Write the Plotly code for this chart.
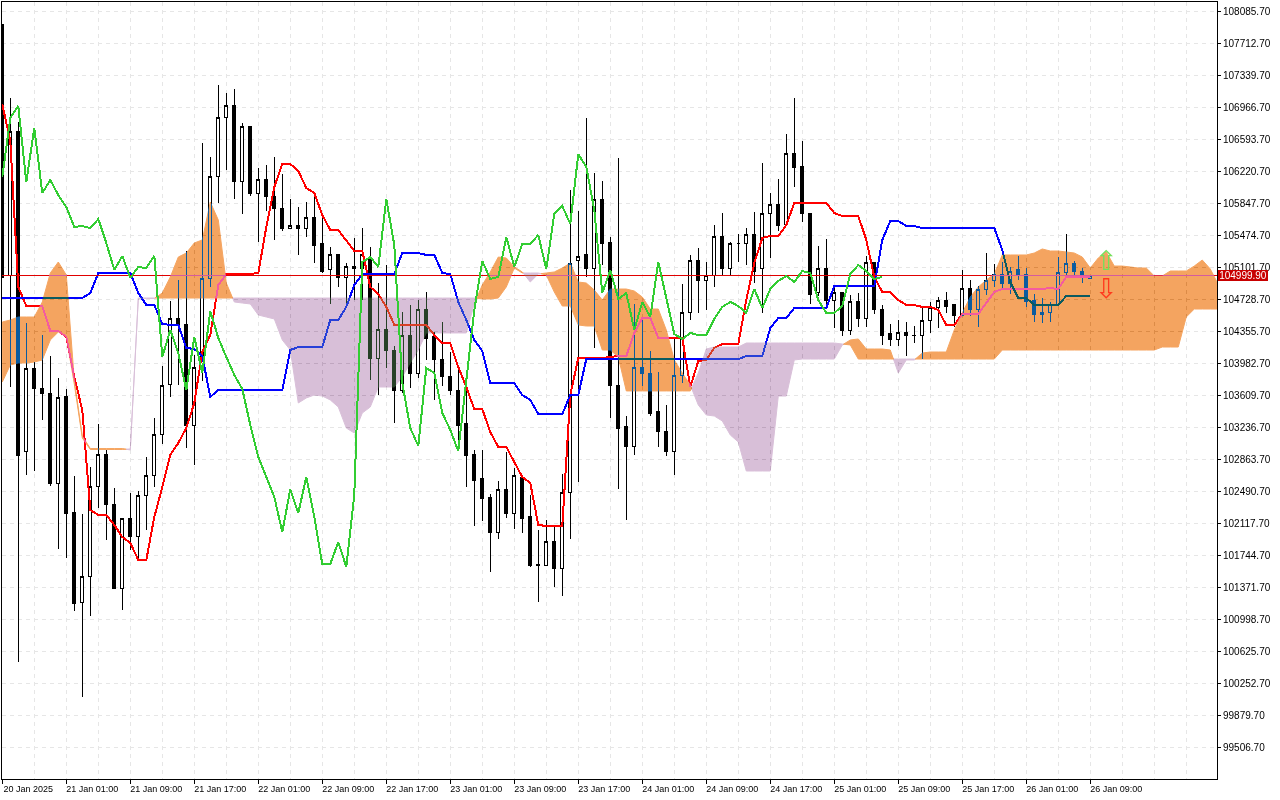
import plotly.graph_objects as go

open_ = [107923,104997,106687,102946,103913,103680,103633,102584,103587,102246,
101197,101500,102549,102922,102339,101360,102165,101966,102433,102666,
103144,103738,104496,104426,103260,103925,104962,106151,106839,106990,
106093,106734,105953,106116,105929,105778,105556,105591,105556,105673,
105370,105067,105242,104974,105113,105090,105207,104041,104368,104134,
103657,104298,103866,104601,104286,104018,103831,103668,103272,102911,
102631,102421,102013,102514,102223,102654,102188,101640,101628,101908,
101593,102479,105172,105242,105090,105894,105382,103715,103237,103015,
103936,103866,103412,103190,102957,103843,104577,105183,104950,104997,
105452,105090,105370,105370,105486,105079,105720,105825,105603,106419,
106279,105731,104799,105079,104717,104810,104356,104694,104507,105160,
104612,104321,104251,104344,104309,104309,104484,104624,104706,104659,
104542,104857,104612,104845,104939,105009,104915,105067,105020,104706,
104566,104566,104659,105032,105137,105055,104962]
high = [107923,107072,106792,104449,103994,104309,104064,103808,103680,102666,
102223,102771,103272,102969,102526,102176,102468,102491,102887,103342,
103948,104706,104950,105288,104076,106547,106384,107223,107130,107177,
106780,106745,106256,106291,106384,106186,105894,105801,105859,105941,
105673,105335,105253,105148,105440,105556,105335,104915,105125,104181,
104577,104659,104717,104810,104344,104461,104111,103936,103750,102969,
102969,102456,102608,102946,102759,102677,102444,102036,102153,102071,
102689,106000,105755,106839,106198,106104,105452,106372,103365,104671,
104507,104123,103878,103493,104263,104904,105242,105323,105160,105591,
105731,105393,105486,105556,105743,106314,105964,106128,106652,107072,
106570,105731,105347,105428,104869,104810,104775,104799,105230,105160,
104659,104438,104484,104461,104414,104624,104694,104752,104810,104671,
105067,104950,104880,105265,105137,105160,105102,105230,105090,104787,
104740,104694,105218,105486,105172,105090,105000]
low = [104985,103703,100498,102677,102724,103319,102549,101815,101710,101092,
100090,101034,102293,101920,101349,101104,101803,101687,102036,102538,
103039,103587,103726,102992,102794,103773,104869,105848,106232,105894,
105720,105929,105393,105755,105417,105521,105545,105242,105452,105148,
105032,104671,104869,104682,104717,104717,103785,103610,103925,103283,
103633,103692,103808,104018,103552,103715,103610,103074,102538,102083,
102141,101547,101931,102176,102048,102001,101605,101197,101628,101372,
101267,101931,102596,104985,104158,105125,103342,102514,102153,102911,
103715,103365,103004,102899,102677,103750,104484,104566,104601,104869,
105009,104997,105160,105125,104915,104566,105207,105521,105591,106034,
105626,104671,104764,104624,104391,104298,104309,104402,104402,104554,
104193,104181,104181,104064,104216,104029,104333,104391,104566,104402,
104542,104531,104402,104775,104869,104857,104787,104950,104636,104461,
104449,104461,104659,104974,104985,104915,104962]
close = [104985,106687,102899,103913,103680,103633,102573,103575,102234,101174,
101500,102549,102922,102328,101349,102165,101966,102433,102677,103144,
103726,104496,104426,103249,103925,104962,106151,106839,106990,106093,
106734,105953,106116,105918,105778,105556,105591,105545,105673,105358,
105055,105242,104974,105113,105090,105242,104041,104368,104123,103657,
104298,103855,104601,104263,104029,103820,103657,103260,102899,102619,
102409,102013,102514,102223,102666,102176,101628,101628,101908,101593,
102479,105148,105230,105090,105894,105370,103715,103225,103015,103936,
103855,103400,103179,102957,103843,104577,105183,104950,104997,105452,
105090,105370,105370,105486,105044,105720,105825,105591,106419,106267,
105720,104787,105079,104717,104810,104356,104694,104507,105160,104601,
104309,104251,104344,104298,104303,104484,104624,104706,104647,104542,
104857,104612,104845,104939,105009,104915,105055,105009,104694,104554,
104554,104659,105032,105137,105044,104985,104999.9]

tenkan = [106998,106570,104869,104647,104647,104647,104356,104356,104286,103820,
103435,102269,102211,102211,102095,101955,101885,101687,101687,102188,
102538,102911,103050,103225,103517,104111,104309,104892,105020,105020,
105020,105020,105032,105568,106034,106302,106302,106221,106023,105964,
105708,105533,105533,105417,105288,105288,104869,104787,104636,104426,
104426,104426,104426,104426,104309,104216,104216,103936,103703,103445,
103445,103179,103004,103004,102829,102654,102584,102095,102083,102083,
102083,103610,104041,104041,104041,104041,104053,104064,104064,104333,
104507,104507,104274,104274,104274,104274,103703,104006,104018,104158,
104204,104204,104204,104717,105148,105440,105463,105463,105591,105848,
105848,105848,105848,105848,105731,105696,105696,105696,105417,104985,
104810,104810,104717,104659,104659,104636,104636,104601,104426,104426,
104554,104554,104554,104682,104810,104845,104845,104845,104845,104845,
104845,104857,104845,104985,104985,104985,104985]
kijun = [104740,104740,104740,104740,104740,104740,104740,104740,104740,104740,
104740,104799,105032,105032,105032,105032,105032,104799,104659,104659,
104438,104426,104426,104158,104146,104064,103587,103668,103668,103668,
103668,103668,103668,103668,103668,103668,104134,104169,104169,104169,
104169,104484,104484,104636,104892,105020,105020,105020,105020,105020,
105265,105265,105265,105242,105242,105032,105020,104694,104484,104251,
104123,103750,103750,103750,103750,103610,103552,103388,103388,103388,
103388,103610,103610,104029,104029,104029,104029,104029,104029,104029,
104029,104029,104029,104029,104029,104029,104029,104029,104029,104029,
104029,104029,104029,104064,104064,104064,104391,104507,104507,104624,
104624,104624,104624,104624,104880,104880,104880,104880,104880,104880,
105417,105638,105638,105580,105580,105556,105556,105556,105556,105556,
105556,105556,105556,105556,105556,105300,104927,104740,104740,104659,
104659,104659,104659,104764,104764,104764,104764]
chikou = [106151,106839,106978,106093,106722,105964,106116,105941,105801,105568,
105580,105556,105661,105382,105067,105230,104974,105102,105090,105230,
104053,104368,104099,103668,104286,103866,104589,104274,104053,103843,
103680,103260,102887,102642,102421,102013,102514,102234,102654,102188,
101640,101640,101896,101605,102444,105160,105218,105102,105894,105358,
103750,103225,103015,103925,103866,103400,103202,102957,103750,104601,
105172,104962,104985,105452,105102,105370,105370,105475,105079,105720,
105813,105603,106419,106267,105766,104799,105067,104729,104799,104368,
104694,104519,105160,104752,104321,104263,104333,104309,104309,104496,
104636,104694,104647,104566,104845,104624,104845,104939,104997,104927,
105055,105032,104717,104566,104566,104647,105020,105125,105055,104962,
104985]
span_a = [104461,104484,104519,104519,104519,104694,105032,105160,105009,103785,
103132,102986,102986,102986,102986,102986,102969,104735,104735,104735,
104799,104985,105218,105265,105382,105417,105859,105650,104915,104694,
104682,104671,104542,104519,104496,104251,104134,103517,103575,103610,
103598,103552,103470,103225,103167,103400,103470,103703,103703,103703,
103820,103983,104134,104333,104333,104333,104333,104333,104333,104671,
104892,105044,105218,105207,105102,105044,104927,105020,105032,105044,
105090,105148,104927,104915,104834,104717,104845,104845,104845,104822,
104752,104612,104612,104368,104018,103866,103726,103493,103377,103365,
103307,103144,103062,102724,102724,102724,102724,103598,103598,104018,
104029,104029,104029,104029,104029,104193,104251,104263,104146,104146,
104146,104134,103866,104018,104018,104099,104111,104111,104111,104368,
104566,104752,104869,104950,105020,105242,105242,105242,105242,105265,
105312,105288,105288,105277,105265,105218,105090,105207,105277,105113,
105113,105102,105090,105090,104997,104997,105055,105055,105055,105113,
105183,105079,104927]
span_b = [103761,103960,103983,103983,103994,104018,104251,104344,104286,103738,
103109,102975,102975,102975,102975,102975,102981,104740,104740,104740,
104740,104740,104740,104740,104740,104740,104740,104740,104740,104740,
104740,104740,104740,104740,104740,104740,104740,104740,104740,104740,
104740,104740,104740,104740,104740,104740,104740,104740,104740,104740,
104740,104740,104740,104740,104740,104740,104740,104740,104740,104740,
104729,104729,104740,104869,105090,105032,105032,105032,105009,104810,
104647,104647,104426,104414,104414,104134,104134,104053,103657,103657,
103657,103657,103657,103657,103657,103657,103657,103866,104146,104169,
104169,104169,104169,104216,104216,104216,104216,104216,104216,104216,
104216,104216,104216,104216,104216,104204,104193,104029,104029,104029,
104029,104029,104029,104029,104029,104029,104029,104029,104029,104029,
104029,104029,104029,104029,104029,104134,104134,104134,104134,104134,
104134,104134,104134,104134,104134,104134,104134,104134,104134,104134,
104134,104134,104134,104134,104134,104169,104169,104169,104519,104612,
104612,104612,104612]
cloud_x = list(range(152)) + [151.84]

x_tick_vals = [0,8,16,24,32,40,48,56,64,72,80,88,96,104,112,120,128,136]
x_tick_text = ["20 Jan 2025","21 Jan 01:00","21 Jan 09:00","21 Jan 17:00","22 Jan 01:00","22 Jan 09:00",
               "22 Jan 17:00","23 Jan 01:00","23 Jan 09:00","23 Jan 17:00","24 Jan 01:00","24 Jan 09:00",
               "24 Jan 17:00","25 Jan 01:00","25 Jan 09:00","25 Jan 17:00","26 Jan 01:00","26 Jan 09:00"]
x_grid_vals = list(range(0, 152, 4))
y_tick_vals = [99506.7,99879.7,100252.7,100625.7,100998.7,101371.7,101744.7,102117.7,102490.7,102863.7,
               103236.7,103609.7,103982.7,104355.7,104728.7,105101.7,105474.7,105847.7,106220.7,106593.7,
               106966.7,107339.7,107712.7,108085.7]
last_price = 104999.9
x_range = [-0.0375, 151.84]
y_range = [99134.0, 108190.6]
signal_x = [138, 138]
signal_y = [105150, 104815]
signal_text = ["\u21e7", "\u21e9"]
signal_color = ["#74e05a", "#ff3a1e"]


def cloud_polygons(sign):
    xs, ys, run = [], [], []

    def flush():
        nonlocal run
        if run:
            xs.extend([r[0] for r in run] + [r[0] for r in run[::-1]] + [None])
            ys.extend([r[1] for r in run] + [r[2] for r in run[::-1]] + [None])
            run = []

    for k in range(len(cloud_x)):
        d = sign * (span_a[k] - span_b[k])
        prev = sign * (span_a[k - 1] - span_b[k - 1]) if k else 0
        if (d > 0) != (prev > 0) and k and d != prev:
            t = prev / (prev - d)
            cx = cloud_x[k - 1] + t * (cloud_x[k] - cloud_x[k - 1])
            cy = span_a[k - 1] + t * (span_a[k] - span_a[k - 1])
            run.append((cx, cy, cy))
            if d <= 0:
                flush()
        if d > 0:
            run.append((cloud_x[k], span_a[k], span_b[k]))
    flush()
    return xs, ys


bars = list(range(len(close)))
fig = go.Figure()
fig.add_trace(go.Candlestick(
    x=bars, open=open_, high=high, low=low, close=close,
    increasing=dict(line=dict(color="#000000", width=1), fillcolor="#ffffff"),
    decreasing=dict(line=dict(color="#000000", width=1), fillcolor="#000000"),
    whiskerwidth=0, hoverinfo="skip"))
fig.add_trace(go.Scatter(x=bars, y=tenkan, mode="lines", line=dict(color="#ff0000", width=2), cliponaxis=False))
fig.add_trace(go.Scatter(x=bars, y=kijun, mode="lines", line=dict(color="#0000ff", width=2), cliponaxis=False))
fig.add_trace(go.Scatter(x=x_range, y=[last_price, last_price], mode="lines",
                         line=dict(color="#e00000", width=1.4), cliponaxis=False))
for sign, colour in ((1, "#F4A460"), (-1, "#D8BFD8")):
    px, py = cloud_polygons(sign)
    fig.add_trace(go.Scatter(x=px, y=py, mode="none", fill="toself", fillcolor=colour, cliponaxis=False))
fig.add_trace(go.Scatter(x=bars[:len(chikou)], y=chikou, mode="lines",
                         line=dict(color="#32cd32", width=2), cliponaxis=False))
fig.add_trace(go.Scatter(x=signal_x, y=signal_y, mode="text", text=signal_text, textposition="middle center",
                         textfont=dict(family="DejaVu Sans", size=27, color=signal_color), cliponaxis=False))

GRID = "#e6e6e6"
fig.update_layout(
    width=1280, height=800, margin=dict(l=2, r=63, t=2, b=21),
    paper_bgcolor="#ffffff", plot_bgcolor="#ffffff", showlegend=False, boxgap=0.5,
    hovermode=False,
    font=dict(family="Liberation Sans", size=10, color="#000000"),
    xaxis=dict(range=x_range, rangeslider=dict(visible=False), tickmode="array",
               tickvals=x_tick_vals, ticktext=x_tick_text, ticks="outside", ticklen=4, tickcolor="#000000",
               tickfont=dict(size=9), ticklabelshift=26, ticklabelstandoff=-3,
               showgrid=True, gridcolor=GRID, griddash="4px,4px", zeroline=False,
               showline=True, linecolor="#000000", linewidth=1, mirror=True,
               minor=dict(tickmode="array", tickvals=x_grid_vals, ticks="", showgrid=True,
                          gridcolor=GRID, griddash="4px,4px")),
    yaxis=dict(range=y_range, side="right", tickmode="array", tickvals=y_tick_vals, tickformat=".2f",
               ticks="outside", ticklen=3, tickcolor="#000000", showgrid=True, gridcolor=GRID,
               griddash="4px,4px", zeroline=False, showline=True, linecolor="#000000", linewidth=1, mirror=True),
    annotations=[dict(x=1, xref="paper", y=last_price, yref="y", xanchor="left", yanchor="middle",
                      xshift=1, text=f"{last_price:.2f}", showarrow=False, bgcolor="#c80000",
                      font=dict(color="#ffffff", size=10, family="Liberation Sans"), borderpad=0,
                      borderwidth=0, height=11, width=50)],
)

post = """
document.body.style.margin='0';
document.querySelectorAll('.js-fill').forEach(function(p){
  var m=p.style.fill.match(/\\d+/g);
  var c='rgb('+(255-m[0])+','+(255-m[1])+','+(255-m[2])+')';
  p.style.fill=c; p.style.stroke=c; p.style.strokeWidth='1px';
  for(var a=p.parentNode;a&&a.tagName.toLowerCase()!='svg';a=a.parentNode){
    a.removeAttribute('clip-path'); a.style.clipPath=''; a.style.opacity=''; a.style.isolation='auto';
  }
  p.parentNode.parentNode.style.mixBlendMode='difference';
});
document.querySelectorAll('.js-line, .boxlayer path').forEach(function(p){p.style.shapeRendering='crispEdges';});
"""
fig.write_html("out.html", post_script=post, config=dict(displayModeBar=False))
